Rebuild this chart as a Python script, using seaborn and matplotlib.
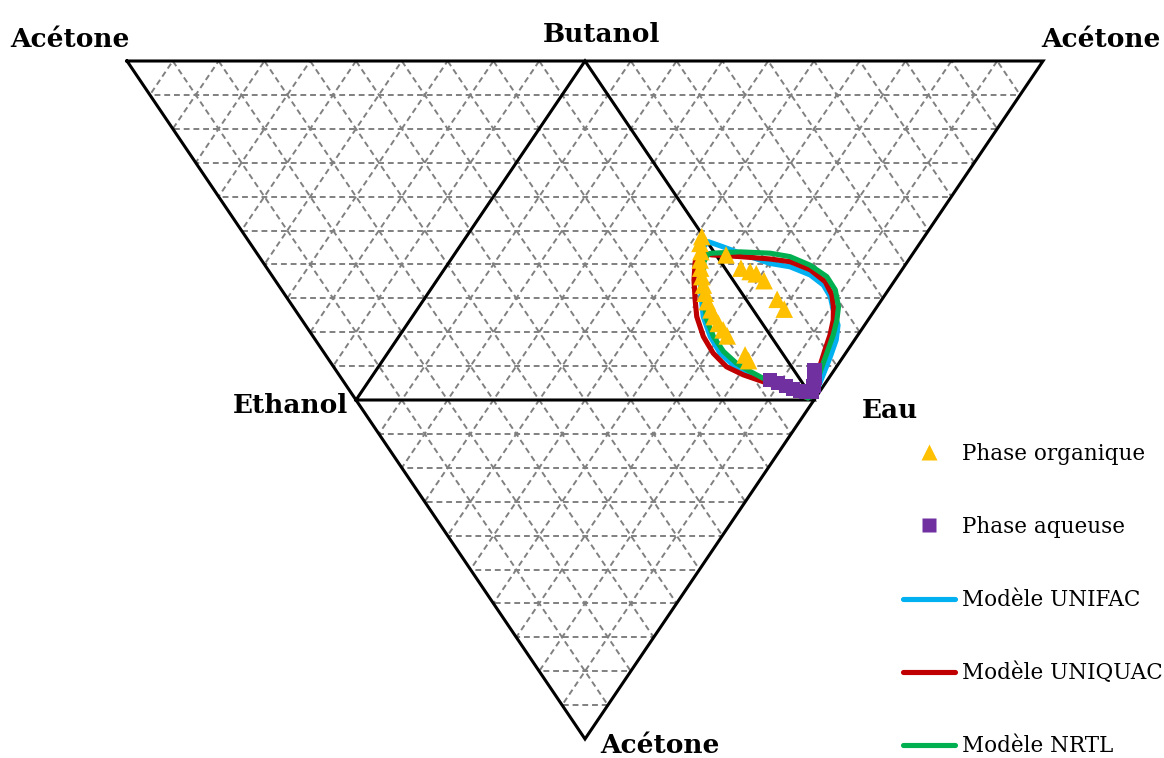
import numpy as np
import pandas as pd
import matplotlib
matplotlib.use("Agg")
import matplotlib.pyplot as plt
from matplotlib.lines import Line2D
from matplotlib.patches import Polygon
from matplotlib.transforms import IdentityTransform
import seaborn as sns

# ---------------- data (fractions referred to the central Butanol–Ethanol–Eau triangle;
# a negative remainder 1 - butanol - eau means the point lies on the acétone side) -----------
org_butanol = [0.482, 0.462, 0.438, 0.413, 0.389, 0.364, 0.339, 0.315, 0.290, 0.266, 0.246,
               0.226, 0.207, 0.189, 0.133, 0.116, 0.428, 0.389, 0.379, 0.372, 0.352, 0.297, 0.268]
org_eau = [0.514, 0.520, 0.534, 0.545, 0.558, 0.573, 0.589, 0.605, 0.622, 0.642, 0.659,
           0.678, 0.698, 0.716, 0.783, 0.799, 0.594, 0.646, 0.671, 0.688, 0.715, 0.771, 0.801]

aq_butanol = [0.059, 0.050, 0.041, 0.032, 0.027, 0.024, 0.024, 0.041, 0.065, 0.089]
aq_eau = [0.874, 0.896, 0.918, 0.938, 0.956, 0.971, 0.982, 0.979, 0.968, 0.956]

unifac_butanol = [0.006, 0.035, 0.059, 0.079, 0.103, 0.138, 0.187, 0.246, 0.295, 0.354, 0.413, 0.454, 0.467,
                  0.452, 0.428, 0.403, 0.393, 0.369, 0.339, 0.305, 0.266, 0.221, 0.177, 0.127, 0.074, 0.024]
unifac_eau = [0.984, 0.919, 0.860, 0.821, 0.772, 0.726, 0.680, 0.635, 0.607, 0.574, 0.547, 0.533, 0.536,
              0.575, 0.635, 0.702, 0.751, 0.807, 0.851, 0.883, 0.909, 0.942, 0.960, 0.972, 0.983, 0.993]

uniquac_butanol = [0.006, 0.030, 0.054, 0.074, 0.098, 0.138, 0.187, 0.246, 0.295, 0.354, 0.407, 0.434, 0.428,
                   0.423, 0.416, 0.408, 0.384, 0.349, 0.310, 0.275, 0.236, 0.192, 0.148, 0.103, 0.059, 0.012]
uniquac_eau = [0.984, 0.922, 0.862, 0.809, 0.760, 0.711, 0.665, 0.621, 0.593, 0.561, 0.537, 0.534, 0.563,
               0.627, 0.696, 0.744, 0.800, 0.850, 0.884, 0.905, 0.924, 0.939, 0.950, 0.962, 0.975, 0.990]

nrtl_butanol = [0.006, 0.035, 0.064, 0.084, 0.108, 0.143, 0.187, 0.236, 0.295, 0.354, 0.407, 0.431, 0.433,
                0.437, 0.433, 0.423, 0.398, 0.364, 0.325, 0.275, 0.236, 0.192, 0.142, 0.091, 0.035, 0.009]
nrtl_eau = [0.984, 0.919, 0.857, 0.819, 0.777, 0.731, 0.687, 0.648, 0.612, 0.581, 0.556, 0.553, 0.560,
            0.620, 0.688, 0.736, 0.792, 0.846, 0.884, 0.916, 0.932, 0.946, 0.958, 0.970, 0.985, 0.989]

legend_labels = ["Phase organique", "Phase aqueuse", "Modèle UNIFAC", "Modèle UNIQUAC", "Modèle NRTL"]
vertex_labels = ["Acétone", "Butanol", "Acétone", "Ethanol", "Eau", "Acétone"]

# ---------------- style ----------------
sns.set_style("white")
plt.rcParams["font.family"] = ["DejaVu Serif", "DejaVu Sans"]
plt.rcParams["text.color"] = "black"

C_ORG, C_AQ = "#FFC000", "#7030A0"
C_UNIFAC, C_UNIQUAC, C_NRTL = "#00B0F0", "#C00000", "#00B050"

S = np.sqrt(3) / 2


def to_xy(b, w):
    b = np.asarray(b, float)
    w = np.asarray(w, float)
    return w + b / 2, b * S


W_PX, H_PX = 1164, 758
fig = plt.figure(figsize=(W_PX / 100, H_PX / 100), dpi=100)
ax = fig.add_axes([0, 0, 1, 1])

# layout anchors (pixels): Ethanol vertex x, Eau vertex x, base line y, top line y
px_e, px_w, py_base, py_top = 356, 814, 400, 61
sx = px_w - px_e
sy = (py_base - py_top) / S
XLIM = (-px_e / sx, (W_PX - px_e) / sx)
YLIM = (-(H_PX - py_base) / sy, py_base / sy)
ax.set_xlim(*XLIM)
ax.set_ylim(*YLIM)
ax.axis("off")

# outer triangle (three acétone corners) and inner triangle
big = np.array([[-0.5, S], [1.5, S], [0.5, -S]])
inner = np.array([[0.0, 0.0], [1.0, 0.0], [0.5, S]])
clip = Polygon(big, closed=True, transform=ax.transData, fill=False, lw=0)

grid_kw = dict(color="#808080", lw=1.4, ls=(0, (3, 2)), zorder=1)
for c in np.arange(-9, 10) / 10:
    segs = [
        ([-2, 3], [c * S, c * S]),
        ([c - 0.75, c + 0.75], [-1.5 * S, 1.5 * S]),
        ([1 - c + 0.75, 1 - c - 0.75], [-1.5 * S, 1.5 * S]),
    ]
    for xs, ys in segs:
        ln, = ax.plot(xs, ys, **grid_kw)
        ln.set_clip_path(clip)

edge_kw = dict(color="black", lw=2.2, zorder=2, solid_joinstyle="miter", solid_capstyle="projecting")
for tri in (big, inner):
    closed = np.vstack([tri, tri[:1]])
    ax.plot(closed[:, 0], closed[:, 1], **edge_kw)

# model curves
for b, w, col in [(unifac_butanol, unifac_eau, C_UNIFAC),
                  (uniquac_butanol, uniquac_eau, C_UNIQUAC),
                  (nrtl_butanol, nrtl_eau, C_NRTL)]:
    x, y = to_xy(b, w)
    df = pd.DataFrame({"x": x, "y": y})
    sns.lineplot(data=df, x="x", y="y", sort=False, estimator=None, color=col, lw=3.7,
                 ax=ax, zorder=3, legend=False)
for line in ax.lines[-3:]:
    line.set_solid_joinstyle("round")
    line.set_solid_capstyle("round")

# experimental points
xo, yo = to_xy(org_butanol, org_eau)
sns.scatterplot(x=xo, y=yo, marker="^", s=160, color=C_ORG, edgecolor="none", linewidth=0,
                ax=ax, zorder=5, legend=False)
xa, ya = to_xy(aq_butanol, aq_eau)
sns.scatterplot(x=xa, y=ya, marker="s", s=110, color=C_AQ, edgecolor="none", linewidth=0,
                ax=ax, zorder=5, legend=False)
ax.set_xlim(*XLIM)
ax.set_ylim(*YLIM)

# vertex labels (figure pixels, origin bottom-left)
lab_kw = dict(xycoords="figure pixels", fontsize=19, fontweight="bold", va="baseline",
              family="DejaVu Serif", color="black")
label_pos = [(70, 47, "center"), (601, 42, "center"), (1161, 47, "right"),
             (348, 413, "right"), (862, 418, "left"), (660, 753, "center")]
for txt, (px, py, ha) in zip(vertex_labels, label_pos):
    ax.annotate(txt, (px, H_PX - py), ha=ha, **lab_kw)

# legend
handles = [
    Line2D([], [], ls="none", marker="^", ms=11, color=C_ORG, mec="none"),
    Line2D([], [], ls="none", marker="s", ms=10, color=C_AQ, mec="none"),
    Line2D([], [], color=C_UNIFAC, lw=3.7, solid_capstyle="round"),
    Line2D([], [], color=C_UNIQUAC, lw=3.7, solid_capstyle="round"),
    Line2D([], [], color=C_NRTL, lw=3.7, solid_capstyle="round"),
]
leg = fig.legend(handles, legend_labels, loc="upper left", bbox_to_anchor=(903, H_PX - 443),
                 bbox_transform=IdentityTransform(), frameon=False, borderpad=0, borderaxespad=0,
                 handlelength=2.42, handletextpad=0.33, labelspacing=2.37,
                 prop={"family": "DejaVu Serif", "size": 15.5})
for t in leg.get_texts():
    t.set_color("black")

fig.savefig("out.png", dpi=100)
